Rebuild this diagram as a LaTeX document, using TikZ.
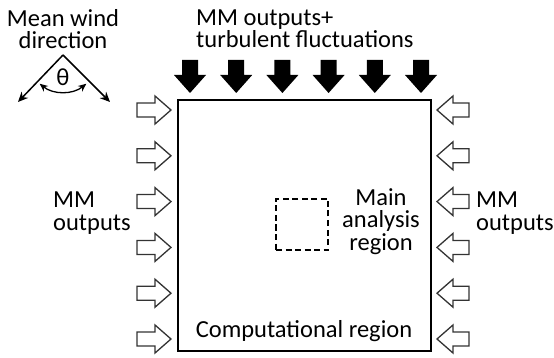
\documentclass[tikz,border=0pt]{standalone}
\usepackage{fontspec}
\setmainfont{Carlito}
\usetikzlibrary{arrows.meta}
\begin{document}
\begin{tikzpicture}[x=1pt,y=-1pt,
  lbl/.style={inner sep=0pt,font=\fontsize{24.5}{22.5}\selectfont},
  openarrow/.style={draw=black!80,fill=white,line width=1.3pt,line join=miter},
  blackarrow/.style={fill=black,draw=none},
  wind/.style={line width=1.5pt,-{Stealth[length=10pt,width=9pt]}}]
\useasboundingbox (0,0) rectangle (554,358);
% computational region
\node[draw,line width=2.6pt,minimum width=253pt,minimum height=251pt,inner sep=0pt] (comp) at (304.5,225.5) {};
% main analysis region
\node[draw,line width=2pt,dash pattern=on 6pt off 3.5pt,minimum width=52pt,minimum height=51pt,inner sep=0pt] (main) at (302,224.5) {};
% top arrows
\foreach \i in {0,...,5}{
  \fill[blackarrow,shift={({190+46.2*\i},93)}] (0,0) -- (-16,-18) -- (-8,-18) -- (-8,-33) -- (8,-33) -- (8,-18) -- (16,-18) -- cycle;
}
% left and right arrows
\foreach \i in {0,...,5}{
  \draw[openarrow,shift={(171,{110+45.8*\i})}] (0,0) -- (-16,-14) -- (-16,-7) -- (-34,-7) -- (-34,7) -- (-16,7) -- (-16,14) -- cycle;
  \draw[openarrow,shift={(437,{110+45.8*\i})}] (0,0) -- (16,-14) -- (16,-7) -- (32,-7) -- (32,7) -- (16,7) -- (16,14) -- cycle;
}
% wind direction
\coordinate (apex) at (63,55);
\coordinate (wl) at (18,102);
\coordinate (wr) at (110,102);
\draw[wind] (apex) -- (wl);
\draw[wind] (apex) -- (wr);
\draw[line width=1.3pt,{Stealth[length=8pt,width=7pt]}-{Stealth[length=8pt,width=7pt]}] ([shift={(129:37)}]apex) arc[start angle=129,end angle=51,radius=37];
\node[lbl,anchor=base] (theta) at (63,86) {θ};
% texts (base anchor = baseline of last line)
\node[lbl,anchor=base,align=center] (mwd) at (63,49) {Mean wind\\direction};
\node[lbl,anchor=base west,align=left] (top) at (196,48) {MM outputs+\\turbulent fluctuations};
\node[lbl,anchor=base west,align=left] (lmm) at (53,230) {MM\\outputs};
\node[lbl,anchor=base west,align=left] (rmm) at (476,230) {MM\\outputs};
\node[lbl,anchor=base,align=center,font=\fontsize{24.5}{22}\selectfont] (mar) at (381,250) {Main\\analysis\\region};
\node[lbl,anchor=base] (crl) at (304,337) {Computational region};
\end{tikzpicture}
\end{document}
